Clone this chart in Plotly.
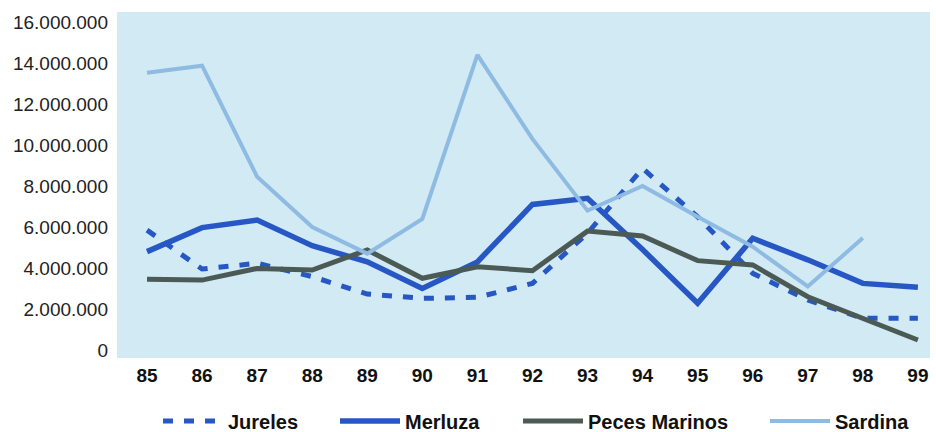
import plotly.graph_objects as go

years = [85, 86, 87, 88, 89, 90, 91, 92, 93, 94, 95, 96, 97, 98, 99]
year_labels = [str(y) for y in years]

jureles = [5850000, 3950000, 4230000, 3580000, 2730000, 2520000, 2570000, 3250000,
           5700000, 8860000, 6500000, 3740000, 2440000, 1550000, 1550000]
merluza = [4800000, 5970000, 6340000, 5090000, 4300000, 3000000, 4300000, 7100000,
           7400000, 4900000, 2280000, 5450000, 4400000, 3250000, 3060000]
peces_marinos = [3450000, 3410000, 3980000, 3900000, 4880000, 3500000, 4060000, 3870000,
                 5800000, 5560000, 4360000, 4150000, 2600000, 1550000, 490000]
sardina = [13530000, 13870000, 8450000, 6000000, 4700000, 6400000, 14400000, 10300000,
           6800000, 8000000, 6500000, 5040000, 3100000, 5460000, None]

y_ticks = [0, 2000000, 4000000, 6000000, 8000000, 10000000, 12000000, 14000000, 16000000]

series = [
    ("Jureles", jureles, "#2757c4", 5, "10px,11px", "legend"),
    ("Merluza", merluza, "#2757c4", 5.5, "solid", "legend2"),
    ("Peces Marinos", peces_marinos, "#4b5a55", 5, "solid", "legend3"),
    ("Sardina", sardina, "#8fbbe3", 4, "solid", "legend4"),
]

fig = go.Figure()
for name, vals, color, w, dash, lg in series:
    fig.add_trace(go.Scatter(
        x=years, y=vals, name=name, mode="lines",
        line=dict(color=color, width=w, dash=dash),
        legend=lg, connectgaps=False,
    ))

W, L, R = 936, 117, 6
pw = W - L - R
IW = 60
def lx(text_x):
    return (text_x - 10 - IW - L) / pw

leg_common = dict(orientation="h", yanchor="middle", y=-0.182, xanchor="left",
                  bgcolor="rgba(0,0,0,0)", itemwidth=IW,
                  font=dict(family="Liberation Sans", size=20, color="#111111", weight="bold"))
fig.update_layout(
    width=936, height=432,
    margin=dict(l=L, r=R, t=12, b=74, autoexpand=False),
    paper_bgcolor="white",
    plot_bgcolor="#d1eaf3",
    separators=",.",
    showlegend=True,
    legend=dict(x=lx(228), **leg_common),
    legend2=dict(x=lx(405), **leg_common),
    legend3=dict(x=lx(588), **leg_common),
    legend4=dict(x=lx(835), **leg_common),
    xaxis=dict(
        range=[84.455, 99.22], tickmode="array", tickvals=years, ticktext=year_labels,
        showgrid=False, zeroline=False, showline=False,
        tickfont=dict(family="Liberation Sans", size=19, color="#111111", weight="bold"),
        ticks="", ticklabelstandoff=4,
    ),
    yaxis=dict(
        range=[-390000, 16490000], tickmode="array", tickvals=y_ticks,
        tickformat=",d",
        showgrid=False, zeroline=False, showline=False,
        tickfont=dict(family="Liberation Sans", size=19, color="#222222"),
        ticks="", ticklabelstandoff=8,
    ),
)

fig.write_html("out.html", config={"displayModeBar": False},
               post_script="document.body.style.margin='0';")
